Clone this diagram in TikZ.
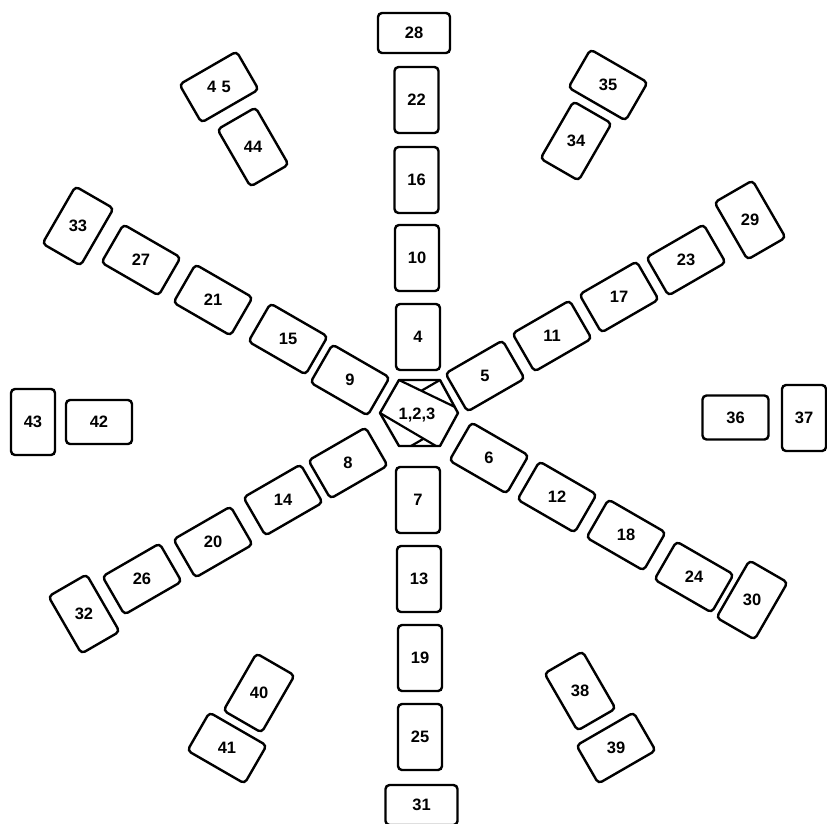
\documentclass[tikz,border=0pt]{standalone}
\usepackage{fontspec}
\setmainfont{Liberation Sans}
\begin{document}
\begin{tikzpicture}[x=1pt,y=-1pt,
  port/.style={draw, line width=2.4pt, rounded corners=4pt, inner sep=0pt, minimum width=44pt, minimum height=66pt},
  land/.style={port, minimum width=66pt, minimum height=44pt},
  wide/.style={port, minimum width=72pt, minimum height=40pt},
  num/.style={font=\fontsize{16.5}{19}\selectfont\bfseries, inner sep=0pt}]
\useasboundingbox (0,0) rectangle (827,823);
\foreach \n/\x/\y/\r/\s in {
  22/416.5/100/0/port, 16/416.5/180/0/port, 10/417/258/0/port, 4/418/337/0/port,
  7/418/500/0/port, 13/419/579/0/port, 19/420/658/0/port, 25/420/737/0/port,
  43/33/422/0/port, 37/804/418/0/port,
  28/414/33/0/wide, 31/421.5/805/0/wide,
  42/99/422/0/land, 36/735.5/417.5/0/land,
  5/485/376/30/land, 11/552/336/30/land, 17/619/297/30/land, 23/686/260/30/land,
  8/348/463/30/land, 14/283/500/30/land, 20/213/542/30/land, 26/142/579/30/land,
  39/616/748/30/land,
  9/350/380/-30/land, 15/288/339/-30/land, 21/213/300/-30/land, 27/141/260/-30/land,
  6/489/458/-30/land, 12/557/497/-30/land, 18/626/535/-30/land, 24/694/577/-30/land,
  35/608/85/-30/land, 41/227/748/-30/land,
  29/750/220/30/port, 32/84/614/30/port, 44/253/147/30/port, 38/580/691/30/port,
  33/78/226/-30/port, 30/752/600/-30/port, 34/576/141/-30/port, 40/259/693/-30/port}
{
  \node[\s, rotate=\r] (c\n) at (\x,\y) {};
  \node[num] (t\n) at (c\n) {\n};
}
\node[land, rotate=30] (c45) at (219,87) {};
\node[num] (t45) at (c45) {4\,\,5};
% centre: cards 1,2,3
\draw[line width=2.4pt, line join=round]
  (380,413) -- (399,380) -- (440,380) -- (458,413) -- (440,446) -- (399,446) -- cycle;
\draw[line width=2.2pt] (399,380) -- (455,407);
\draw[line width=2.2pt] (440,380) -- (421.3,390.8);
\draw[line width=2.2pt] (380,413) -- (436,446);
\draw[line width=2.2pt] (411,446) -- (423.6,438.7);
\node[num] (t123) at (417,415) {1,2,3};
\end{tikzpicture}
\end{document}
